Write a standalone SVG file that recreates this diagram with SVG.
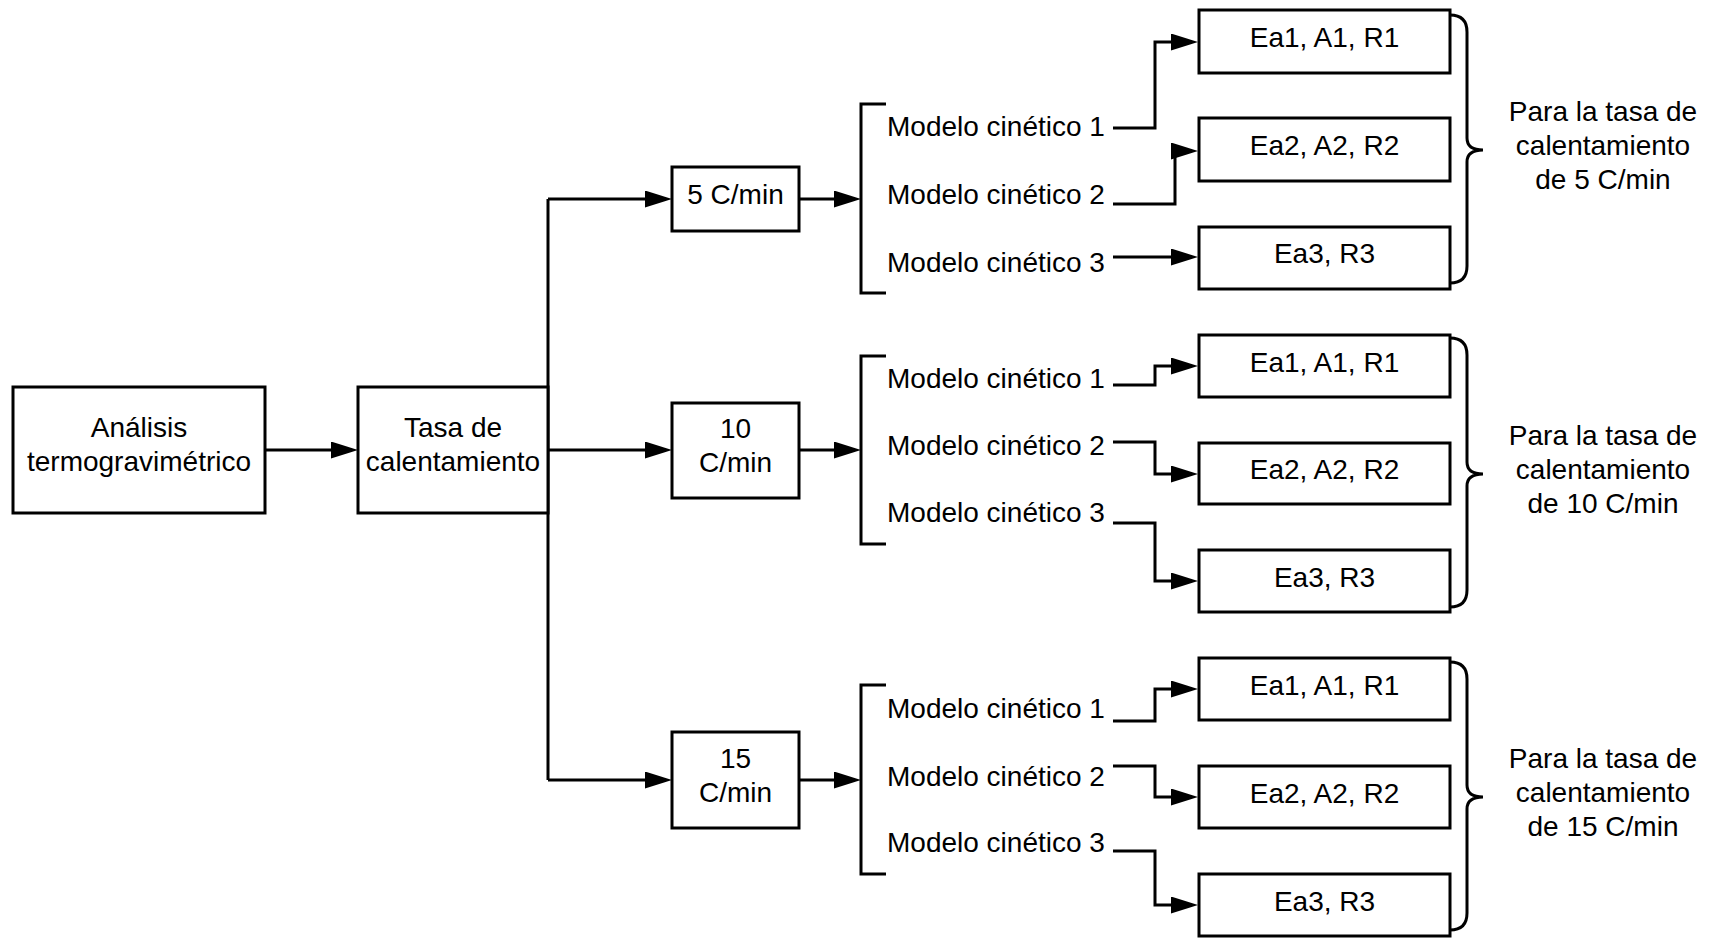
<svg xmlns="http://www.w3.org/2000/svg" width="1717" height="938" viewBox="0 0 1717 938">
<style>
.box{fill:#fff;stroke:#000;stroke-width:3}
.ln{fill:none;stroke:#000;stroke-width:3}
.arr{fill:none;stroke:#000;stroke-width:3;marker-end:url(#ah)}
text{font-family:"Liberation Sans",Arial,sans-serif;font-size:28px;fill:#000}
.c{text-anchor:middle}
</style>
<defs>
<marker id="ah" markerUnits="userSpaceOnUse" markerWidth="27" markerHeight="17" viewBox="0 0 27 17" refX="21" refY="8.5" orient="auto">
<path d="M0,0 L27,8.5 L0,17 z" fill="#000"/>
</marker>
</defs>
<rect width="1717" height="938" fill="#fff"/>

<g id="connectors">
<path class="arr" d="M265,450 H352"/>
<path class="ln" d="M548,199 V780"/>
<path class="arr" d="M548,199 H666"/>
<path class="arr" d="M548,450 H666"/>
<path class="arr" d="M548,780 H666"/>
<path class="arr" d="M799,199 H855"/>
<path class="arr" d="M799,450 H855"/>
<path class="arr" d="M799,780 H855"/>
<path class="arr" d="M1113,128 H1155 V42 H1192"/>
<path class="arr" d="M1113,204 H1175 V151 H1192"/>
<path class="arr" d="M1113,257 H1192"/>
<path class="arr" d="M1113,385 H1155 V366 H1192"/>
<path class="arr" d="M1113,442 H1155 V474 H1192"/>
<path class="arr" d="M1113,523 H1155 V581 H1192"/>
<path class="arr" d="M1113,721 H1155 V689 H1192"/>
<path class="arr" d="M1113,766 H1155 V797 H1192"/>
<path class="arr" d="M1113,851 H1155 V905 H1192"/>
</g>

<g id="analisis">
<rect class="box" x="13" y="387" width="252" height="126"/>
<text class="c" x="139" y="437">Análisis</text>
<text class="c" x="139" y="471">termogravimétrico</text>
</g>
<g id="tasa">
<rect class="box" x="358" y="387" width="190" height="126"/>
<text class="c" x="453" y="437">Tasa de</text>
<text class="c" x="453" y="471">calentamiento</text>
</g>

<g id="rate5">
<rect class="box" x="672" y="167" width="127" height="64"/>
<text class="c" x="735.5" y="204">5 C/min</text>
</g>
<g id="rate10">
<rect class="box" x="672" y="403" width="127" height="95"/>
<text class="c" x="735.5" y="438">10</text>
<text class="c" x="735.5" y="472">C/min</text>
</g>
<g id="rate15">
<rect class="box" x="672" y="732" width="127" height="96"/>
<text class="c" x="735.5" y="768">15</text>
<text class="c" x="735.5" y="802">C/min</text>
</g>

<g id="models5">
<path class="ln" d="M886,104 H861 V293 H886"/>
<text x="887" y="136">Modelo cinético 1</text>
<text x="887" y="204">Modelo cinético 2</text>
<text x="887" y="272">Modelo cinético 3</text>
</g>
<g id="models10">
<path class="ln" d="M886,356 H861 V544 H886"/>
<text x="887" y="388">Modelo cinético 1</text>
<text x="887" y="455">Modelo cinético 2</text>
<text x="887" y="522">Modelo cinético 3</text>
</g>
<g id="models15">
<path class="ln" d="M886,685 H861 V874 H886"/>
<text x="887" y="718">Modelo cinético 1</text>
<text x="887" y="786">Modelo cinético 2</text>
<text x="887" y="852">Modelo cinético 3</text>
</g>

<g id="res5-1"><rect class="box" x="1199" y="10" width="251" height="63"/><text class="c" x="1324.5" y="47">Ea1, A1, R1</text></g>
<g id="res5-2"><rect class="box" x="1199" y="118" width="251" height="63"/><text class="c" x="1324.5" y="155">Ea2, A2, R2</text></g>
<g id="res5-3"><rect class="box" x="1199" y="227" width="251" height="62"/><text class="c" x="1324.5" y="263">Ea3, R3</text></g>

<g id="res10-1"><rect class="box" x="1199" y="335" width="251" height="62"/><text class="c" x="1324.5" y="371.5">Ea1, A1, R1</text></g>
<g id="res10-2"><rect class="box" x="1199" y="443" width="251" height="61"/><text class="c" x="1324.5" y="479">Ea2, A2, R2</text></g>
<g id="res10-3"><rect class="box" x="1199" y="550" width="251" height="62"/><text class="c" x="1324.5" y="586.5">Ea3, R3</text></g>

<g id="res15-1"><rect class="box" x="1199" y="658" width="251" height="62"/><text class="c" x="1324.5" y="694.5">Ea1, A1, R1</text></g>
<g id="res15-2"><rect class="box" x="1199" y="766" width="251" height="62"/><text class="c" x="1324.5" y="802.5">Ea2, A2, R2</text></g>
<g id="res15-3"><rect class="box" x="1199" y="874" width="251" height="62"/><text class="c" x="1324.5" y="910.5">Ea3, R3</text></g>

<g id="note5">
<path class="ln" d="M1450,15 Q1467,15 1467,32 V138 Q1467,150 1483,150 Q1467,150 1467,162 V266 Q1467,283 1450,283"/>
<text class="c" x="1603" y="121">Para la tasa de</text>
<text class="c" x="1603" y="155">calentamiento</text>
<text class="c" x="1603" y="189">de 5 C/min</text>
</g>
<g id="note10">
<path class="ln" d="M1450,338 Q1467,338 1467,355 V462 Q1467,474 1483,474 Q1467,474 1467,486 V590 Q1467,607 1450,607"/>
<text class="c" x="1603" y="445">Para la tasa de</text>
<text class="c" x="1603" y="479">calentamiento</text>
<text class="c" x="1603" y="513">de 10 C/min</text>
</g>
<g id="note15">
<path class="ln" d="M1450,662 Q1467,662 1467,679 V785 Q1467,797 1483,797 Q1467,797 1467,809 V913 Q1467,930 1450,930"/>
<text class="c" x="1603" y="768">Para la tasa de</text>
<text class="c" x="1603" y="802">calentamiento</text>
<text class="c" x="1603" y="836">de 15 C/min</text>
</g>
</svg>
